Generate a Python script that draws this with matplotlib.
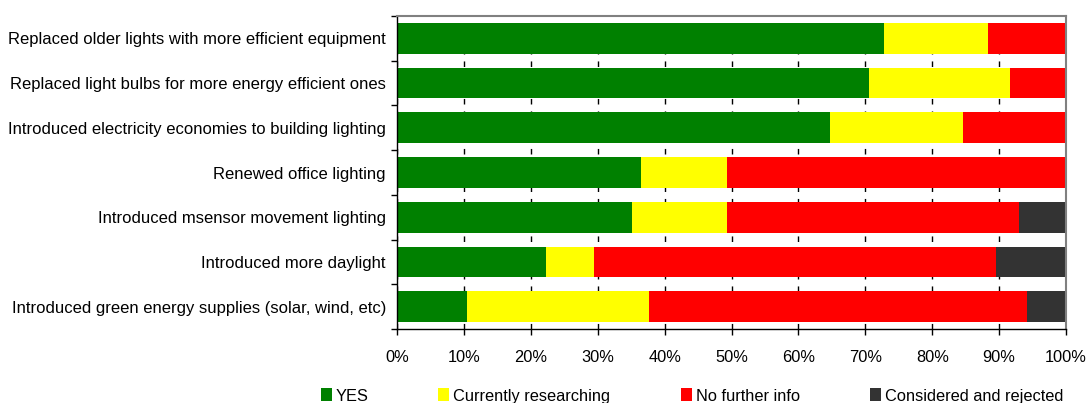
import matplotlib
matplotlib.use("Agg")
import matplotlib.pyplot as plt
import numpy as np
from matplotlib.ticker import FixedLocator, PercentFormatter

plt.rcParams['font.family'] = ['Liberation Sans', 'DejaVu Sans']

categories = [
    "Replaced older lights with more efficient equipment",
    "Replaced light bulbs for more energy efficient ones",
    "Introduced electricity economies to building lighting",
    "Renewed office lighting",
    "Introduced msensor movement lighting",
    "Introduced more daylight",
    "Introduced green energy supplies (solar, wind, etc)",
]
series_names = ["YES", "Currently researching", "No further info", "Considered and rejected"]
yes = [72.8, 70.6, 64.7, 36.4, 35.2, 22.3, 10.5]
researching = [15.5, 21.1, 19.9, 13.0, 14.2, 7.1, 27.1]
no_info = [11.7, 8.3, 15.4, 50.6, 43.5, 60.1, 56.5]
rejected = [0.0, 0.0, 0.0, 0.0, 7.1, 10.5, 5.9]
colors = ["#008000", "#FFFF00", "#FF0000", "#333333"]
x_ticks = list(range(0, 101, 10))

FS = 11.8
W, H = 1087, 403
fig = plt.figure(figsize=(W / 100, H / 100), dpi=100)
ax = fig.add_axes([397 / W, 74 / H, (1066 - 397) / W, (329 - 16) / H])

y = np.arange(len(categories))
left = np.zeros(len(categories))
for name, vals, col in zip(series_names, [yes, researching, no_info, rejected], colors):
    vals = np.array(vals)
    ax.barh(y, vals, left=left, height=0.69, color=col, label=name, zorder=2)
    left += vals

ax.set_xlim(0, 100)
ax.set_ylim(len(categories) - 0.5, -0.5)

ax.xaxis.set_major_locator(FixedLocator(x_ticks))
ax.xaxis.set_major_formatter(PercentFormatter(decimals=0))
ax.grid(axis='x', color='black', linestyle=(0, (4, 5)), linewidth=1.0, zorder=1)
ax.set_axisbelow(True)
ax.tick_params(axis='x', direction='out', length=4, width=1, pad=11, labelsize=FS, colors='black')

ax.set_yticks(y)
ax.set_yticklabels(categories)
ax.set_yticks(np.arange(-0.5, len(categories), 1.0), minor=True)
ax.tick_params(axis='y', which='major', length=0, pad=8, labelsize=12)
ax.tick_params(axis='y', which='minor', direction='out', length=4, width=1)

for side in ('top', 'right'):
    ax.spines[side].set_color('#808080')
    ax.spines[side].set_linewidth(1.5)
for side in ('left', 'bottom'):
    ax.spines[side].set_color('black')
    ax.spines[side].set_linewidth(1.0)

# one legend entry per series, laid out along the bottom edge
handles, labels = ax.get_legend_handles_labels()
entry_x = [321, 438, 681, 870]
for h, lab, ex in zip(handles, labels, entry_x):
    fig.legend([h], [lab], loc='center left', bbox_to_anchor=(ex / W, 7 / H),
               frameon=False, fontsize=FS, handlelength=0.65, handleheight=0.85,
               handletextpad=0.25, borderaxespad=0, borderpad=0)

fig.savefig("out.png", dpi=100)
